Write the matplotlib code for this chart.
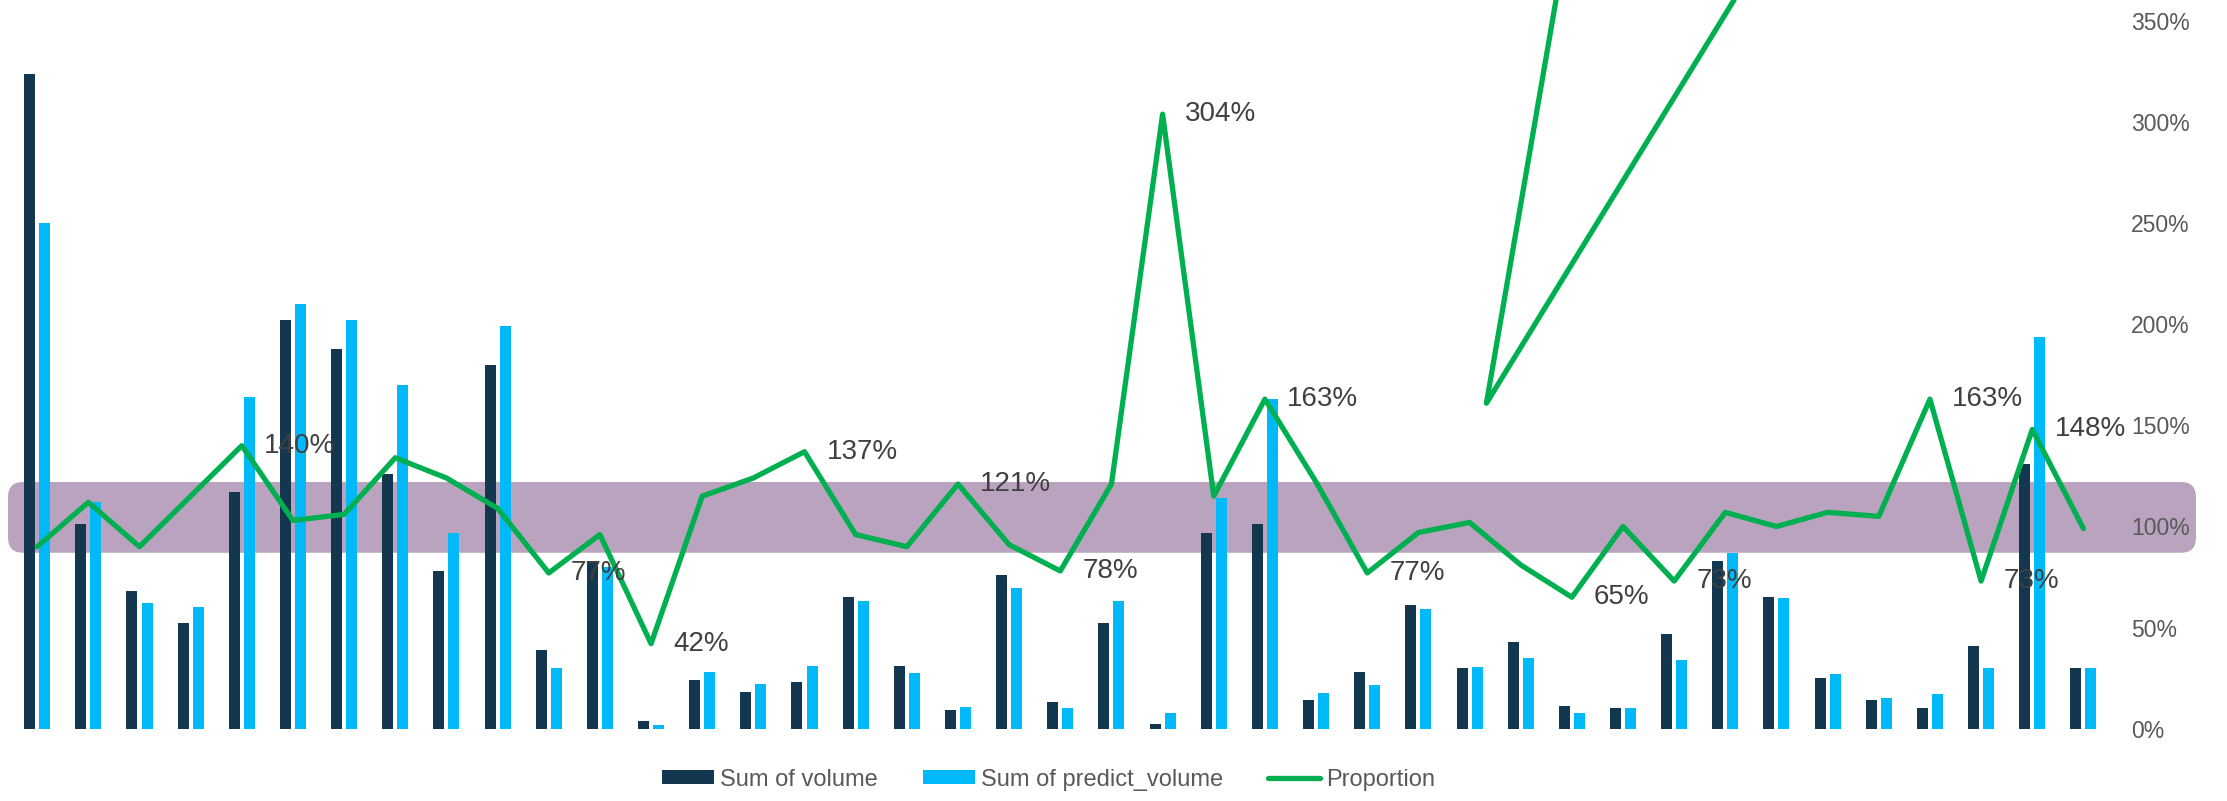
import numpy as np
import matplotlib
matplotlib.use('Agg')
import matplotlib.pyplot as plt
from matplotlib.patches import FancyBboxPatch

plt.rcParams['font.family'] = ['Liberation Sans', 'DejaVu Sans']

# sums per group (left axis, hidden)
volume = [32400, 10100, 6800, 5200, 11700, 20200, 18800, 12600, 7800, 18000,
          3900, 8300, 400, 2400, 1800, 2300, 6500, 3100, 900, 7600,
          1300, 5200, 250, 9700, 10100, 1400, 2800, 6100, 3000, 4300,
          1100, 1000, 4700, 8300, 6500, 2500, 1400, 1000, 4100, 13100, 3000]
predict_volume = [25000, 11200, 6200, 6000, 16400, 21000, 20200, 17000, 9700, 19900,
                  3000, 8000, 160, 2800, 2200, 3100, 6300, 2750, 1060, 6950,
                  1000, 6300, 760, 11400, 16300, 1740, 2150, 5900, 3030, 3500,
                  760, 1000, 3400, 8700, 6450, 2700, 1500, 1700, 3000, 19400, 3000]
# proportion in % (right axis)
proportion = [90, 112, 90, 115, 140, 103, 106, 134, 124, 109,
              77, 96, 42, 115, 124, 137, 96, 90, 121, 91,
              78, 121, 304, 115, 163, 122, 77, 97, 102, 81,
              65, 100, 73, 107, 100, 107, 105, 163, 73, 148, 99]
labelled = [4, 10, 12, 15, 18, 20, 22, 24, 26, 30, 32, 37, 38, 39]

# stray stroke going off the top
spur_x = [29.69, 28.33, 33.17]
spur_y = [360.5, 161, 360.5]

# target band (in %)
band_low, band_high = 87, 122
band_left, band_right = -0.57, 42.2

x = np.arange(len(volume))

fig = plt.figure(figsize=(22.27, 8.01), dpi=100)

# pixel-space layer behind the chart for the band
bg = fig.add_axes([0, 0, 1, 1], zorder=0)
bg.set_xlim(0, 2227)
bg.set_ylim(0, 801)
bg.axis('off')

ax = fig.add_axes([0.00521, 0.0904, 0.9418, 0.9096], zorder=1)
ax.patch.set_visible(False)
w = 0.215
b1 = ax.bar(x - 0.147, volume, w, color='#12374F', label='Sum of volume')
b2 = ax.bar(x + 0.147, predict_volume, w, color='#00B9F8', label='Sum of predict_volume')
ax.set_xlim(-0.5, 40.5)
ax.set_ylim(0, 36050)
ax.axis('off')

ax2 = ax.twinx()
ln, = ax2.plot(x, proportion, color='#00B050', lw=3.8, solid_joinstyle='round',
               solid_capstyle='round', label='Proportion')
ax2.plot(spur_x, spur_y, color='#00B050', lw=3.8, solid_joinstyle='round',
         solid_capstyle='round')
ax2.set_ylim(0, 360.5)
ticks = np.arange(0, 351, 50)
ax2.set_yticks(ticks)
ax2.set_yticklabels([f'{t}%' for t in ticks])
ax2.tick_params(axis='y', length=0, pad=16, labelsize=16.5, labelcolor='#595959')
for s in ax2.spines.values():
    s.set_visible(False)

for i in labelled:
    ax2.annotate(f'{proportion[i]:.0f}%', (i, proportion[i]), xytext=(16, 0),
                 textcoords='offset points', ha='left', va='center',
                 fontsize=20, color='#404040')

# band drawn in pixels so the corners stay round
(x0, y0), (x1, y1) = ax2.transData.transform([(band_left, band_low), (band_right, band_high)])
bg.add_patch(FancyBboxPatch((x0, y0), x1 - x0, y1 - y0,
                            boxstyle='round,pad=0,rounding_size=15',
                            fc='#B9A3BF', ec='none'))

fig.legend([b1, b2, ln], ['Sum of volume', 'Sum of predict_volume', 'Proportion'],
           loc='center', bbox_to_anchor=(0.4708, 0.0268), ncol=3, frameon=False,
           fontsize=17, handlelength=2.22, handleheight=0.53, handletextpad=0.26,
           columnspacing=1.88, labelcolor='#595959')

fig.savefig('out.png', dpi=100)
